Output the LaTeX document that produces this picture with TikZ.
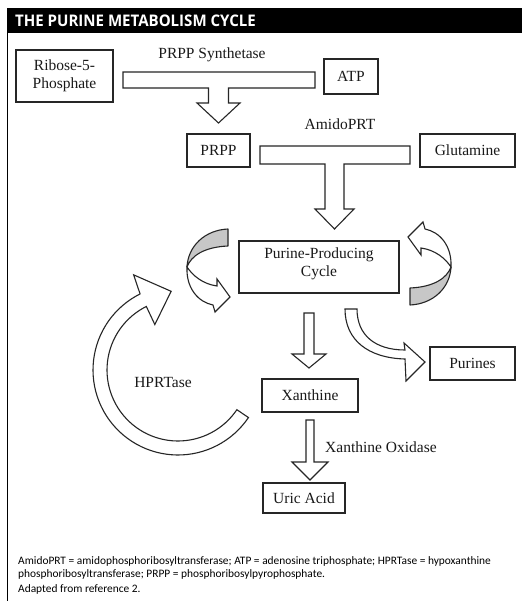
\documentclass[tikz,border=0pt]{standalone}
\usepackage{fontspec}
\setmainfont{Liberation Serif}
\newfontfamily\titlefont{Open Sans}
\newfontfamily\notefont{Carlito}
\usetikzlibrary{calc}
\begin{document}
\begin{tikzpicture}[x=1pt,y=-1pt,
  box/.style={draw=black!85, line width=1.1pt, inner sep=0pt, font=\fontsize{15.5}{18}\selectfont, text=black!90, align=center},
  lbl/.style={font=\fontsize{15.5}{18}\selectfont, text=black!90, inner sep=0pt},
  blockarrow/.style={draw=black!85, line width=1.1pt, fill=white, line join=miter},
  shadepart/.style={draw=black!85, line width=1.1pt, fill=black!22, line join=round},
  whitepart/.style={draw=black!85, line width=1.1pt, fill=white, line join=miter},
  note/.style={font=\notefont\fontsize{11.4}{13}\selectfont, anchor=base west, inner sep=0pt, text=black}
]
\useasboundingbox (0,0) rectangle (522,601);
\fill[white] (0,0) rectangle (522,601);
% title bar and frame
\fill[black] (7,8) rectangle (522,33);
\node[anchor=base west, inner sep=0pt, text=white, font=\titlefont\bfseries\fontsize{16}{16}\selectfont] (title) at (15,27) {\scalebox{0.94}[1]{THE PURINE METABOLISM CYCLE}};
\draw[line width=1pt] (7,33) -- (7,601);

% boxes
\node[box, minimum width=97pt, minimum height=52pt] (ribose) at (64.5,76) {Ribose-5-\\Phosphate};
\node[box, minimum width=54pt, minimum height=35pt] (atp) at (351,76.5) {ATP};
\node[box, minimum width=63pt, minimum height=33pt] (prpp) at (218.5,150.5) {PRPP};
\node[box, minimum width=95pt, minimum height=33pt] (glut) at (467.5,150.5) {Glutamine};
\node[box, minimum width=160pt, minimum height=52pt] (cycle) at (319,267) {};
\node[lbl, align=center] (cycletext) at (319,264) {Purine-Producing\\Cycle};
\node[box, minimum width=85pt, minimum height=33pt] (purines) at (472.5,363.5) {Purines};
\node[box, minimum width=96pt, minimum height=33pt] (xan) at (310,395.5) {Xanthine};
\node[box, minimum width=82pt, minimum height=30pt] (uric) at (304,498) {Uric Acid};

% labels
\node[lbl, anchor=base] (synth) at (212,58.5) {PRPP Synthetase};
\node[lbl, anchor=base] (amido) at (340,130) {AmidoPRT};
\node[lbl] (hprt) at (163,382) {HPRTase};
\node[lbl, anchor=west] (xo) at (325,447) {Xanthine Oxidase};

% T-shaped block arrows
\draw[blockarrow] (123,72) -- (315,72) -- (315,88) -- (228.5,88) -- (228.5,103) -- (240,103) -- (218.5,123) -- (197,103) -- (208.5,103) -- (208.5,88) -- (123,88) -- cycle;
\draw[blockarrow] (260,146) -- (410,146) -- (410,164) -- (344,164) -- (344,209) -- (354,209) -- (334.5,229) -- (315,209) -- (325,209) -- (325,164) -- (260,164) -- cycle;

% straight down arrows
\draw[blockarrow] (304,313) -- (314,313) -- (314,354) -- (326,354) -- (309,368) -- (292,354) -- (304,354) -- cycle;
\draw[blockarrow] (306,420) -- (314,420) -- (314,462) -- (328,462) -- (310,480) -- (292,462) -- (306,462) -- cycle;

% curved arrow to Purines
\draw[blockarrow] (345,309) -- (357,309) .. controls (357,335) and (375,350) .. (405,350) -- (404,343) -- (425,362) -- (406,381) -- (405,359) .. controls (368,358) and (345,340) .. (345,309) -- cycle;

% left twisted arrow
\draw[shadepart] (228,229) .. controls (205,230) and (188,246) .. (187,267) .. controls (191,256) and (204,247) .. (228,246) -- cycle;
\draw[whitepart] (187,267) .. controls (193,276) and (203,284) .. (217,286) -- (217,279) -- (230,297) -- (215,312) -- (213,305) .. controls (198,302) and (186,288) .. (187,267) -- cycle;

% right twisted arrow (same shape turned half round)
\begin{scope}[rotate around={180:(319,267)}]
\draw[shadepart] (228,229) .. controls (205,230) and (188,246) .. (187,267) .. controls (191,256) and (204,247) .. (228,246) -- cycle;
\draw[whitepart] (187,267) .. controls (193,276) and (203,284) .. (217,286) -- (217,279) -- (230,297) -- (215,312) -- (213,305) .. controls (198,302) and (186,288) .. (187,267) -- cycle;
\end{scope}

% HPRTase ring arrow
\coordinate (C) at (178,370);
\draw[blockarrow] plot[domain=34:243.5, samples=60] ({178+85*cos(\x)},{370+85*sin(\x)})
  -- ($(C)+(245:105)$) -- ($(C)+(265:79)$) -- ($(C)+(243:51)$) -- ($(C)+(243.5:71)$)
  -- plot[domain=243.5:34, samples=60] ({178+71*cos(\x)},{370+71*sin(\x)}) -- cycle;

% footnotes
\node[note] (n1) at (18,564) {AmidoPRT = amidophosphoribosyltransferase; ATP = adenosine triphosphate; HPRTase = hypoxanthine};
\node[note] (n2) at (18,577) {phosphoribosyltransferase; PRPP = phosphoribosylpyrophosphate.};
\node[note] (n3) at (18,592) {Adapted from reference 2.};
\end{tikzpicture}
\end{document}
